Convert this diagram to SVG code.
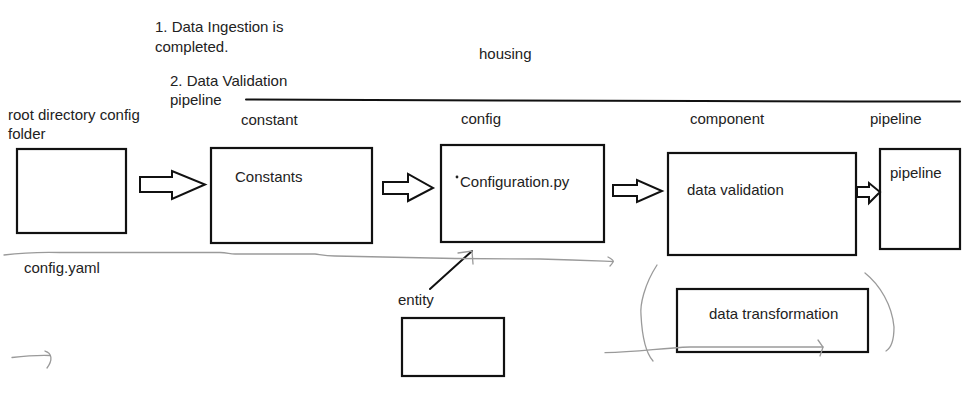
<svg xmlns="http://www.w3.org/2000/svg" width="967" height="402" viewBox="0 0 967 402">
<style>
text{font-family:"Liberation Sans",Arial,sans-serif;font-size:15px;fill:#222}
.box{fill:#fff;stroke:#111;stroke-width:2.2}
.blk{fill:#fff;stroke:#111;stroke-width:2;stroke-linejoin:miter}
.gray{fill:none;stroke:#9a9a9a;stroke-width:1.3;stroke-linecap:round}
.ink{fill:none;stroke:#111;stroke-width:2;stroke-linecap:round}
</style>
<rect width="967" height="402" fill="#fff"/>
<g id="labels">
<text x="155" y="32">1. Data Ingestion is</text>
<text x="155" y="52">completed.</text>
<text x="479" y="59">housing</text>
<text x="170" y="86">2. Data Validation</text>
<text x="170" y="105">pipeline</text>
<text x="8" y="120">root directory config</text>
<text x="8" y="139">folder</text>
<text x="241" y="125">constant</text>
<text x="461" y="124">config</text>
<text x="690" y="124">component</text>
<text x="870" y="124">pipeline</text>
<text x="24" y="273">config.yaml</text>
<text x="398" y="305">entity</text>
</g>
<g id="node-root"><rect class="box" x="17" y="149" width="109" height="84"/></g>
<g id="node-constants"><rect class="box" x="211" y="148" width="161" height="95"/><text x="235" y="182">Constants</text></g>
<g id="node-configuration"><rect class="box" x="441" y="145" width="163" height="97"/><circle cx="457" cy="177" r="1.4" fill="#222"/><text x="460" y="187">Configuration.py</text></g>
<g id="node-data-validation"><rect class="box" x="668" y="153" width="188" height="102"/><text x="687" y="195">data validation</text></g>
<g id="node-pipeline"><rect class="box" x="880" y="149" width="80" height="100"/><text x="890" y="178">pipeline</text></g>
<g id="node-entity"><rect class="box" x="402" y="318" width="102" height="58"/></g>
<g id="node-data-transformation"><rect class="box" x="677" y="289" width="191" height="63"/><text x="709" y="319">data transformation</text></g>
<g id="connectors">
<polyline class="ink" stroke-width="1.8" points="246,99.5 370,100 500,100.5 700,101 850,101.5 960,101.5"/>
<polygon class="blk" points="140,177 172,177 172,171 205,184.5 172,199 172,192 140,192"/>
<polygon class="blk" points="383,182 408,182 408,174 433,188 408,201 408,194 383,194"/>
<polygon class="blk" points="613,185 637,185 637,180 662,191 637,202 637,196 613,196"/>
<polygon class="blk" points="857,187 869,187 869,183 880,192 869,203 869,197 857,197"/>
<line class="ink" x1="430" y1="289" x2="472" y2="251"/>
<path class="gray" d="M4,255 C20,253 40,252 60,252.5 L220,252.5 C228,253 230,254 235,254 L315,254 C322,255 325,256 335,256 L455,258.5 L540,259 C580,260 600,261 613,261.5"/>
<path class="gray" d="M608,257 C612,259 614,261 613,262 C612,264 611,265 610,266"/>
<path class="gray" d="M458,253 L472,251 L473,264"/>
<path class="gray" d="M12,357.5 C25,356 35,355 50,355.5"/>
<path class="gray" d="M45,351 C52,353 53,360 47,368"/>
<path class="gray" d="M605,352.7 C640,352 660,348 690,347 L823,347"/>
<path class="gray" d="M818,340 L823,347 L820,356"/>
<path class="gray" d="M657,265 C644,285 640,305 641,315 C642,335 645,352 653,361"/>
<path class="gray" d="M865,273 C880,285 892,305 894,327 C894,340 891,348 886,351"/>
</g>
</svg>
